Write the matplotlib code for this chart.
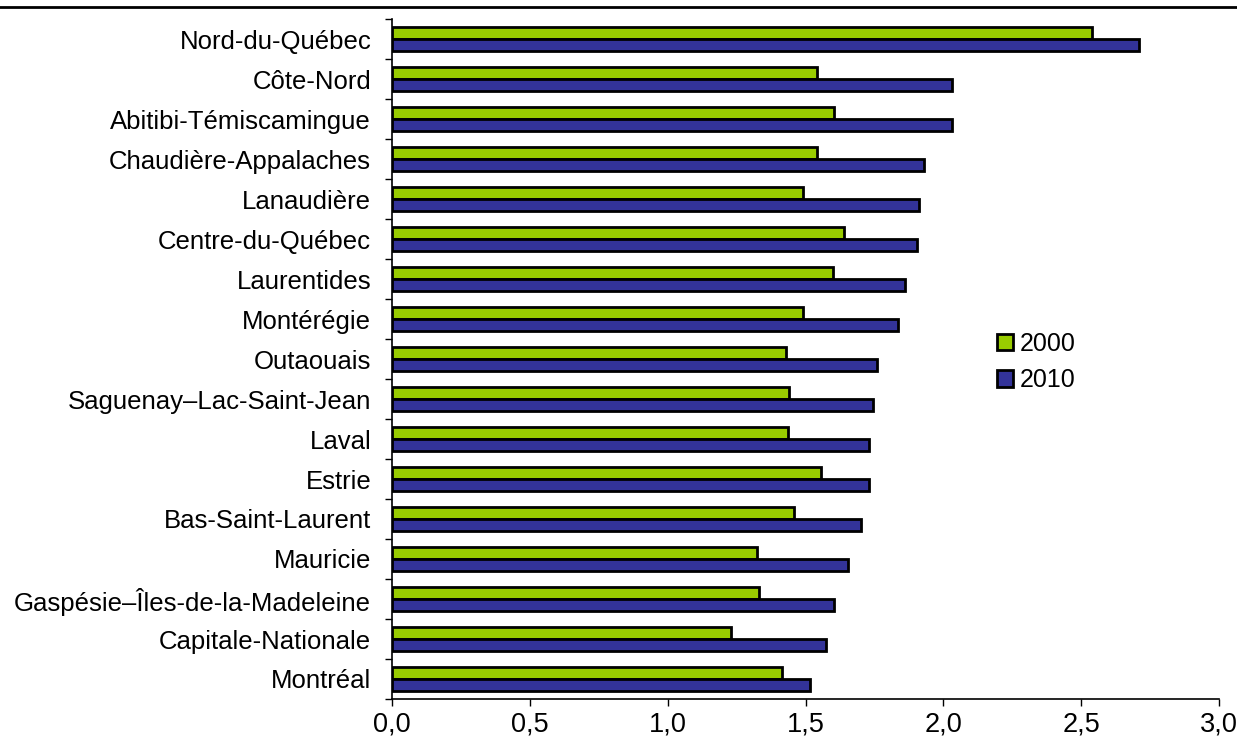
import numpy as np
import matplotlib
matplotlib.use('Agg')
import matplotlib.pyplot as plt
from matplotlib.lines import Line2D

# data (top to bottom)
regions = ['Nord-du-Québec', 'Côte-Nord', 'Abitibi-Témiscamingue',
           'Chaudière-Appalaches', 'Lanaudière', 'Centre-du-Québec',
           'Laurentides', 'Montérégie', 'Outaouais', 'Saguenay–Lac-Saint-Jean',
           'Laval', 'Estrie', 'Bas-Saint-Laurent', 'Mauricie',
           'Gaspésie–Îles-de-la-Madeleine', 'Capitale-Nationale', 'Montréal']
val_2000 = [2.54, 1.54, 1.605, 1.54, 1.49, 1.64, 1.60, 1.49, 1.43, 1.44,
            1.435, 1.555, 1.46, 1.325, 1.33, 1.23, 1.415]
val_2010 = [2.71, 2.03, 2.03, 1.93, 1.91, 1.905, 1.86, 1.835, 1.76, 1.745,
            1.73, 1.73, 1.70, 1.655, 1.605, 1.575, 1.515]
xticks = [0.0, 0.5, 1.0, 1.5, 2.0, 2.5, 3.0]

plt.rcParams['font.family'] = ['Liberation Sans', 'DejaVu Sans']

fig = plt.figure(figsize=(12.37, 7.5), dpi=100)
ax = fig.add_axes([392 / 1237, 1 - 699 / 750, (1219 - 392) / 1237, 680 / 750])

n = len(regions)
y = np.arange(n)[::-1]
h = 0.29
ax.barh(y + h / 2, val_2000, height=h, color='#99CC00', edgecolor='black',
        linewidth=2, label='2000')
ax.barh(y - h / 2, val_2010, height=h, color='#333399', edgecolor='black',
        linewidth=2, label='2010')

ax.set_xlim(0, 3.0)
ax.set_ylim(-0.5, n - 0.5)
ax.set_xticks(xticks)
ax.set_xticklabels([f'{t:.1f}'.replace('.', ',') for t in xticks], fontsize=19.5)
ax.set_yticks(y)
ax.set_yticklabels(regions, fontsize=18.5)
ax.set_yticks(np.arange(n + 1) - 0.5, minor=True)
ax.tick_params(axis='y', which='major', length=0, pad=15)
ax.tick_params(axis='y', which='minor', length=5, width=1, direction='out')
ax.tick_params(axis='x', length=5, width=1, direction='out', pad=4)

for s in ['top', 'right']:
    ax.spines[s].set_visible(False)
for s in ['left', 'bottom']:
    ax.spines[s].set_linewidth(1.2)

ax.legend(loc='center left', bbox_to_anchor=(997 / 1237, 1 - 362 / 750),
          bbox_transform=fig.transFigure, frameon=False, fontsize=18,
          handlelength=0.65, handleheight=0.65, handletextpad=0.25,
          labelspacing=0.5, borderaxespad=0, borderpad=0)

# top rule
fig.add_artist(Line2D([0, 1], [1 - 7 / 750, 1 - 7 / 750], color='black',
                      linewidth=2, transform=fig.transFigure))

plt.savefig('out.png', dpi=100)
